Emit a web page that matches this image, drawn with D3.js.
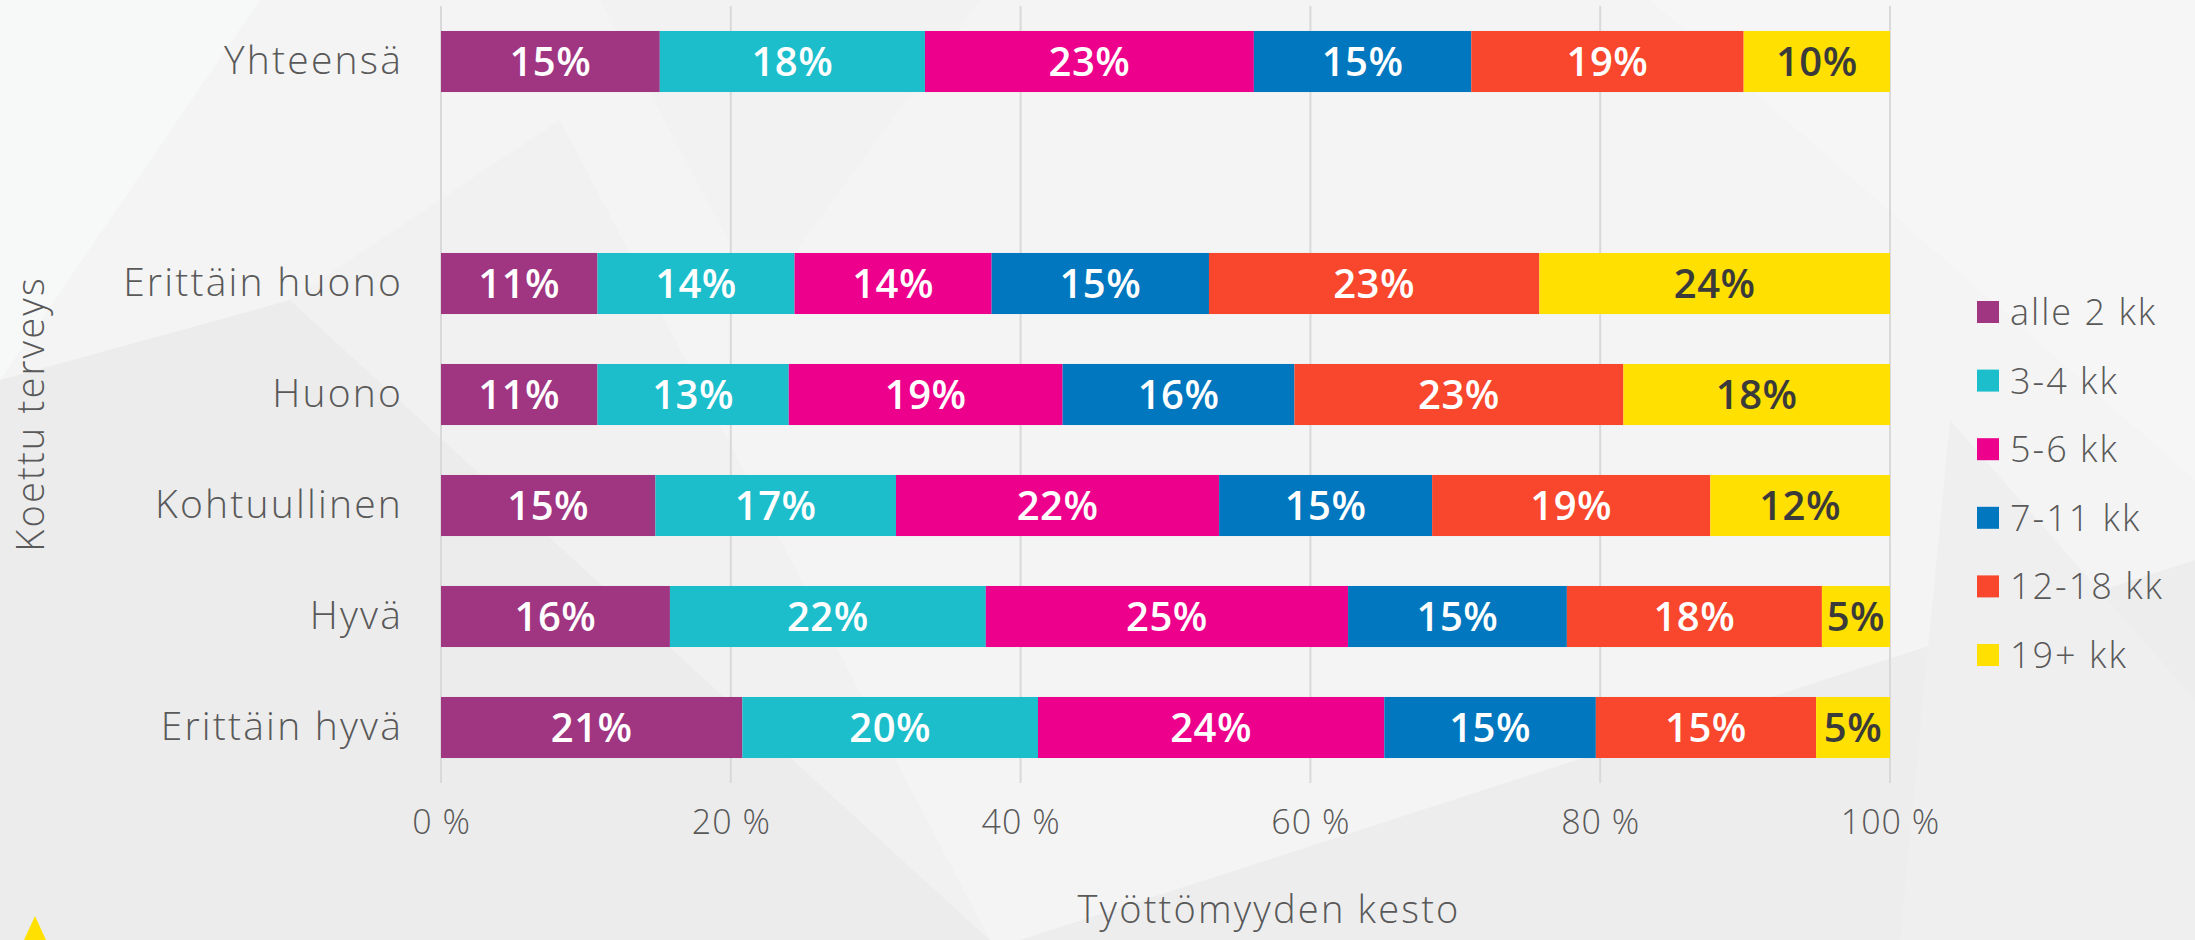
<!DOCTYPE html>
<html><head><meta charset="utf-8">
<script src="https://cdn.jsdelivr.net/npm/d3@7"></script>
<style>
html,body{margin:0;padding:0;background:#f4f4f4;}
svg{display:block;}
</style></head>
<body>
<svg id="chart" width="2195" height="940"></svg>
<script>
// ---- data ----
const categories = ["Yhteensä", "", "Erittäin huono", "Huono", "Kohtuullinen", "Hyvä", "Erittäin hyvä"];
const seriesNames = ["alle 2 kk", "3-4 kk", "5-6 kk", "7-11 kk", "12-18 kk", "19+ kk"];
const seriesColors = ["#A03582", "#1CBECB", "#EC008C", "#0077BE", "#F8472D", "#FFE000"];
const alle2kk = [15.1, null, 10.8, 10.8, 14.8, 15.8, 20.8];
const kk3_4   = [18.3, null, 13.6, 13.2, 16.6, 21.8, 20.4];
const kk5_6   = [22.7, null, 13.6, 18.9, 22.3, 25.0, 23.9];
const kk7_11  = [15.0, null, 15.0, 16.0, 14.7, 15.1, 14.6];
const kk12_18 = [18.8, null, 22.8, 22.7, 19.2, 17.6, 15.2];
const kk19    = [10.1, null, 24.2, 18.4, 12.4, 4.7, 5.1];
const tickValues = [0, 20, 40, 60, 80, 100];
const xTitle = "Työttömyyden kesto";
const yTitle = "Koettu terveys";

const seriesValues = [alle2kk, kk3_4, kk5_6, kk7_11, kk12_18, kk19];
const rows = categories.map((c, i) => {
  const r = {cat: c, idx: i, empty: seriesValues[0][i] == null};
  seriesNames.forEach((s, j) => r[s] = seriesValues[j][i] == null ? 0 : seriesValues[j][i]);
  return r;
});

const svg = d3.select("#chart");
const W = 2195, H = 940;

// ---- decorative background ----
const bg = svg.append("g");
bg.append("rect").attr("width", W).attr("height", H).attr("fill", "#f4f4f4");
const polys = [
  {pts: [[0,0],[260,0],[0,380]], fill: "#f7f8f8"},
  {pts: [[0,380],[290,300],[990,940],[0,940]], fill: "#ececec"},
  {pts: [[290,300],[560,120],[990,940]], fill: "#f1f1f1"},
  {pts: [[1020,940],[2195,560],[2195,940]], fill: "#ededee"},
  {pts: [[1650,0],[2195,0],[2195,480]], fill: "#f6f6f6"},
  {pts: [[1950,420],[2195,700],[2195,940],[1900,940]], fill: "#efeff0"},
  {pts: [[600,0],[980,0],[760,300]], fill: "#f2f2f2"}
];
bg.selectAll("path.poly").data(polys).join("path")
  .attr("class", "poly")
  .attr("d", d => "M" + d.pts.map(p => p.join(",")).join("L") + "Z")
  .attr("fill", d => d.fill);
bg.append("path").attr("d", "M35,916 L46,940 L24,940 Z").attr("fill", "#FFE000");

// ---- scales ----
const x = d3.scaleLinear().domain([0, 100]).range([441, 1890]);
const y = d3.scaleBand().domain(categories.map((c, i) => i)).range([6, 783])
  .paddingInner(0.45).paddingOuter(0.225);
const color = d3.scaleOrdinal().domain(seriesNames).range(seriesColors);

const fontFam = "'Open Sans', 'Noto Sans', sans-serif";

// ---- gridlines ----
svg.append("g").selectAll("line").data(tickValues).join("line")
  .attr("x1", d => x(d)).attr("x2", d => x(d))
  .attr("y1", 6).attr("y2", 783)
  .attr("stroke", "#d9d9d9").attr("stroke-width", 2);

// ---- x axis tick labels ----
const xAxis = d3.axisBottom(x).tickValues(tickValues).tickFormat(d => d + " %").tickSize(0).tickPadding(0);
const gx = svg.append("g").attr("transform", "translate(0,810)").call(xAxis);
gx.select(".domain").remove();
gx.selectAll("text").attr("font-family", fontFam).attr("font-size", 34).attr("font-weight", 300)
  .attr("letter-spacing", 1).attr("fill", "#595959");

// ---- y axis labels ----
const yAxis = d3.axisLeft(y).tickFormat(i => categories[i]).tickSize(0).tickPadding(0);
const gy = svg.append("g").attr("transform", "translate(403,0)").call(yAxis);
gy.select(".domain").remove();
gy.selectAll("text").attr("font-family", fontFam).attr("font-size", 39).attr("font-weight", 300)
  .attr("letter-spacing", 2.2).attr("fill", "#595959");

// ---- stacked bars ----
const stack = d3.stack().keys(seriesNames)(rows.filter(r => !r.empty));
const layers = svg.append("g").selectAll("g").data(stack).join("g").attr("fill", d => color(d.key));
layers.selectAll("rect").data(d => d).join("rect")
  .attr("x", d => x(d[0]))
  .attr("width", d => x(d[1]) - x(d[0]))
  .attr("y", d => y(d.data.idx))
  .attr("height", y.bandwidth());

layers.each(function(layer) {
  d3.select(this).selectAll("text").data(layer).join("text")
    .attr("x", d => (x(d[0]) + x(d[1])) / 2)
    .attr("y", d => y(d.data.idx) + y.bandwidth() / 2)
    .attr("dy", "0.36em")
    .attr("text-anchor", "middle")
    .attr("font-family", fontFam)
    .attr("font-size", 40)
    .attr("font-weight", 600)
    .attr("letter-spacing", 0.5)
    .attr("fill", layer.key === "19+ kk" ? "#3a3a3a" : "#ffffff")
    .text(d => Math.round(d.data[layer.key]) + "%");
});

// ---- axis titles ----
svg.append("text").attr("x", 1269).attr("y", 910).attr("dy", "0.35em")
  .attr("text-anchor", "middle").attr("font-family", fontFam).attr("font-size", 38)
  .attr("font-weight", 300).attr("letter-spacing", 2.2).attr("fill", "#595959").text(xTitle);
svg.append("text").attr("transform", "translate(31,414) rotate(-90)").attr("dy", "0.35em")
  .attr("text-anchor", "middle").attr("font-family", fontFam).attr("font-size", 38)
  .attr("font-weight", 300).attr("letter-spacing", 2.2).attr("fill", "#595959").text(yTitle);

// ---- legend ----
const legend = svg.append("g").selectAll("g").data(seriesNames).join("g")
  .attr("transform", (d, i) => `translate(1977,${312 + i * 68.6})`);
legend.append("rect").attr("x", 0).attr("y", -11).attr("width", 22).attr("height", 22)
  .attr("fill", d => color(d));
legend.append("text").attr("x", 33).attr("dy", "0.36em")
  .attr("font-family", fontFam).attr("font-size", 36).attr("font-weight", 300)
  .attr("letter-spacing", 2).attr("fill", "#595959").text(d => d);
</script>
</body></html>
